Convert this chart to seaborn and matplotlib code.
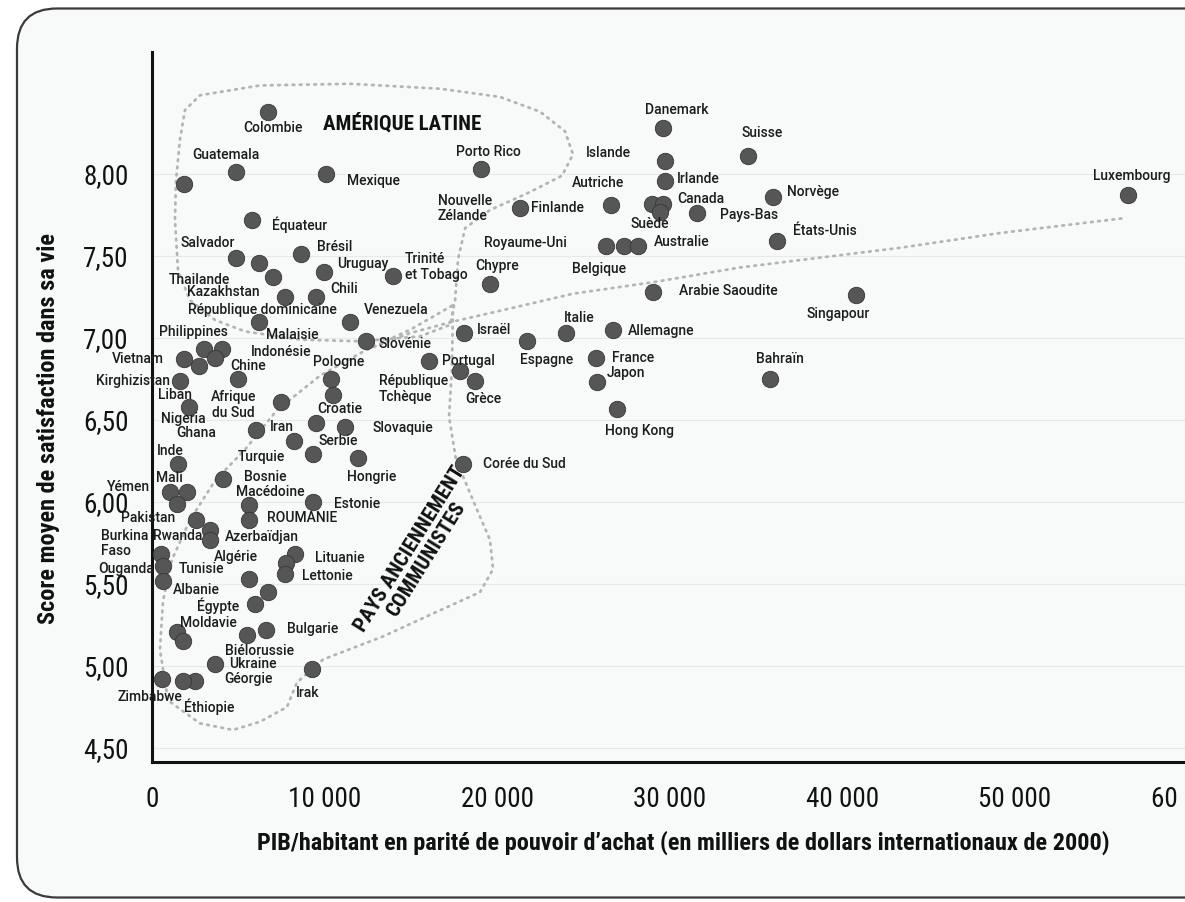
import matplotlib
matplotlib.use("Agg")
import matplotlib.pyplot as plt
import seaborn as sns
from matplotlib import font_manager
from matplotlib.patches import FancyBboxPatch
from matplotlib.transforms import IdentityTransform

# Données (PIB/hab. PPA en $ 2000, score de satisfaction)
pays = [
    "Colombie", "", "Guatemala", "Mexique", "Porto Rico", "Équateur", "Salvador", "",
    "Thaïlande", "Brésil", "Uruguay", "Trinité et Tobago", "Chypre", "Kazakhstan", "Chili",
    "République dominicaine", "Venezuela", "Slovénie", "Israël",
    "Philippines", "Indonésie", "", "Vietnam", "", "Kirghizistan", "Chine", "Pologne", "",
    "Portugal", "République Tchèque", "Grèce", "Espagne", "Italie", "Allemagne", "France",
    "Japon", "Hong Kong", "Bahraïn", "Corée du Sud",
    "Liban", "Afrique du Sud", "Iran", "Croatie", "Slovaquie", "Serbie", "Turquie", "Hongrie",
    "Inde", "Bosnie", "Mali", "", "Yémen", "Macédoine", "ROUMANIE", "Estonie", "Pakistan",
    "Rwanda", "Azerbaïdjan", "Burkina Faso", "Ouganda", "Albanie",
    "Lituanie", "", "Lettonie", "Algérie", "", "Égypte", "Moldavie", "", "Bulgarie",
    "Biélorussie", "Ukraine", "Géorgie", "Éthiopie", "Zimbabwe", "Irak",
    "Danemark", "Suisse", "Islande", "Irlande", "Autriche", "", "Canada", "Suède", "Pays-Bas",
    "Norvège", "Finlande", "Royaume-Uni", "Belgique", "Australie", "États-Unis",
    "Arabie Saoudite", "Singapour", "Luxembourg",
]
pib = [
    6740, 1840, 4860, 10110, 19050, 5780, 4860, 6220,
    7000, 8620, 9980, 13960, 19570, 7710, 9500,
    6220, 11470, 12390, 18080,
    3020, 4030, 3630, 1840, 2710, 1620, 4990, 10380, 10460,
    16070, 17850, 18720, 21750, 23970, 26690, 25730,
    25770, 26930, 35810, 18040,
    2160, 7460, 6030, 9490, 11180, 8230, 9350, 11950,
    1520, 4100, 1040, 2010, 1430, 5600, 5600, 9350, 2530,
    3360, 3360, 520, 610, 610,
    8290, 7750, 7710, 5640, 6740, 5970, 1430, 1810, 6610,
    5490, 3650, 2490, 1810, 560, 9250,
    29630, 34550, 29720, 29720, 26580, 28950, 29630, 29430, 31560,
    36000, 21320, 26290, 27370, 28180, 36230,
    29010, 40790, 56570,
]
score = [
    8.38, 7.94, 8.01, 8.00, 8.03, 7.72, 7.49, 7.46,
    7.37, 7.51, 7.40, 7.38, 7.33, 7.25, 7.25,
    7.10, 7.10, 6.98, 7.03,
    6.93, 6.93, 6.88, 6.87, 6.83, 6.74, 6.75, 6.75, 6.65,
    6.86, 6.80, 6.74, 6.98, 7.03, 7.05, 6.88,
    6.73, 6.57, 6.75, 6.23,
    6.58, 6.61, 6.44, 6.48, 6.46, 6.37, 6.29, 6.27,
    6.23, 6.14, 6.06, 6.06, 5.99, 5.98, 5.89, 6.00, 5.89,
    5.83, 5.77, 5.68, 5.61, 5.52,
    5.68, 5.63, 5.56, 5.53, 5.45, 5.38, 5.21, 5.15, 5.22,
    5.19, 5.01, 4.91, 4.91, 4.92, 4.98,
    8.28, 8.11, 8.08, 7.96, 7.81, 7.82, 7.82, 7.77, 7.76,
    7.86, 7.79, 7.56, 7.56, 7.56, 7.59,
    7.28, 7.26, 7.87,
]

# contours pointillés
latam_pib = [1620, 1910, 2780, 6260, 11470, 16690, 20160, 22480, 23930, 24390, 23760, 21900,
             19580, 18140, 17730, 17560, 17270, 15530, 12050, 8580, 5390, 3650, 2200, 1510,
             1330, 1390, 1620]
latam_score = [8.21, 8.39, 8.48, 8.54, 8.55, 8.52, 8.47, 8.38, 8.26, 8.12, 7.99, 7.89,
               7.78, 7.67, 7.48, 7.23, 7.08, 7.01, 6.98, 6.99, 7.04, 7.11, 7.23, 7.41,
               7.72, 7.96, 8.21]
comm_pib = [17440, 17380, 17210, 17610, 18720, 19580, 19760, 19000, 16280, 13380, 9910, 8400,
            7820, 6260, 4690, 2780, 930, 460, 640, 1160, 2200, 3650, 5390, 7240, 9730, 12460,
            14950, 17440]
comm_score = [7.20, 6.82, 6.52, 6.26, 5.98, 5.77, 5.59, 5.45, 5.32, 5.18, 5.04, 4.90,
              4.75, 4.66, 4.61, 4.65, 4.79, 5.10, 5.40, 5.65, 5.89, 6.13, 6.32, 6.56, 6.77,
              6.93, 7.05, 7.20]
tend_pib = [12460, 14950, 17440, 21150, 24390, 29030, 34070, 38700, 43340, 49130, 56260]
tend_score = [6.93, 7.03, 7.10, 7.19, 7.27, 7.34, 7.43, 7.49, 7.55, 7.64, 7.73]

x_ticks = [0, 10000, 20000, 30000, 40000, 50000, 60000]
y_ticks = [4.5, 5.0, 5.5, 6.0, 6.5, 7.0, 7.5, 8.0]

# étiquettes : texte, pays d'ancrage, décalage (px), alignement
etiquettes = [
    ("Colombie", "Colombie", 5, -16, "center"), ("Guatemala", "Guatemala", -10, 17, "center"),
    ("Mexique", "Mexique", 47, -7, "center"), ("Porto Rico", "Porto Rico", 8, 17, "center"),
    ("Équateur", "Équateur", 48, -5, "center"), ("Salvador", "Salvador", -28, 15, "center"),
    ("Thailande", "Thaïlande", -73, -3, "center"), ("Brésil", "Brésil", 34, 7, "center"),
    ("Uruguay", "Uruguay", 39, 8, "center"), ("Trinité\net Tobago", "Trinité et Tobago", 12, 9, "left"),
    ("Chypre", "Chypre", 7, 18, "center"), ("Kazakhstan", "Kazakhstan", -62, 5, "center"),
    ("Chili", "Chili", 28, 8, "center"),
    ("République dominicaine", "République dominicaine", 3, 12, "center"),
    ("Venezuela", "Venezuela", 46, 12, "center"), ("Malaisie", "République dominicaine", 33, -13, "center"),
    ("Philippines", "Philippines", -11, 17, "center"), ("Slovénie", "Slovénie", 39, -3, "center"),
    ("Israël", "Israël", 30, 3, "center"), ("Nouvelle\nZélande", "Finlande", -82, 0, "left"),
    ("Finlande", "Finlande", 37, 0, "center"), ("Indonésie", "Indonésie", 60, -3, "center"),
    ("Vietnam", "Vietnam", -46, 0, "center"), ("Kirghizistan", "Kirghizistan", -47, 0, "center"),
    ("Chine", "Chine", 10, 13, "center"), ("Pologne", "Pologne", 7, 17, "center"),
    ("Liban", "Liban", -14, 12, "center"), ("Nigeria", "Liban", -6, -12, "center"),
    ("Ghana", "Liban", 7, -26, "center"), ("Afrique\ndu Sud", "Afrique du Sud", -47, -3, "center"),
    ("Iran", "Iran", 26, 3, "center"), ("Croatie", "Croatie", 24, 14, "center"),
    ("Slovaquie", "Slovaquie", 58, -1, "center"), ("Serbie", "Serbie", 44, 0, "center"),
    ("Turquie", "Turquie", -52, -3, "center"), ("Hongrie", "Hongrie", 13, -19, "center"),
    ("Inde", "Inde", -8, 13, "center"), ("Mali", "Mali", -1, 14, "center"),
    ("Yémen", "Yémen", -48, 17, "center"), ("Bosnie", "Bosnie", 42, 2, "center"),
    ("Macédoine", "Macédoine", 22, 13, "center"), ("ROUMANIE", "ROUMANIE", 53, 2, "center"),
    ("Estonie", "Estonie", 44, -2, "center"), ("Pakistan", "Pakistan", -48, 2, "center"),
    ("Rwanda", "Rwanda", -32, -6, "center"), ("Azerbaïdjan", "Azerbaïdjan", 52, 3, "center"),
    ("Burkina\nFaso", "Burkina Faso", -60, 11, "left"), ("Ouganda", "Ouganda", -36, -3, "center"),
    ("Tunisie", "Ouganda", 39, -3, "center"), ("Albanie", "Albanie", 34, -9, "center"),
    ("Algérie", "Algérie", -13, 22, "center"), ("Lituanie", "Lituanie", 45, -4, "center"),
    ("Lettonie", "Lettonie", 42, -2, "center"), ("Égypte", "Égypte", -37, -2, "center"),
    ("Moldavie", "Moldavie", 32, 9, "center"), ("Bulgarie", "Bulgarie", 47, 1, "center"),
    ("Biélorussie", "Biélorussie", 13, -16, "center"), ("Ukraine", "Ukraine", 38, 0, "center"),
    ("Géorgie", "Géorgie", 53, 2, "center"), ("Éthiopie", "Éthiopie", 26, -26, "center"),
    ("Zimbabwe", "Zimbabwe", -12, -18, "center"), ("Irak", "Irak", -4, -24, "center"),
    ("Corée du Sud", "Corée du Sud", 61, 0, "center"), ("Portugal", "Portugal", 39, 0, "center"),
    ("République\nTchèque", "République Tchèque", -81, -18, "left"), ("Grèce", "Grèce", 8, -18, "center"),
    ("Espagne", "Espagne", 19, -19, "center"), ("Italie", "Italie", 13, 15, "center"),
    ("Allemagne", "Allemagne", 48, -1, "center"), ("France", "France", 37, 0, "center"),
    ("Japon", "Japon", 29, 9, "center"), ("Hong Kong", "Hong Kong", 23, -22, "center"),
    ("Bahraïn", "Bahraïn", 10, 20, "center"), ("Arabie Saoudite", "Arabie Saoudite", 76, 1, "center"),
    ("Singapour", "Singapour", -18, -19, "center"), ("Luxembourg", "Luxembourg", 3, 19, "center"),
    ("Norvège", "Norvège", 40, 5, "center"), ("États-Unis", "États-Unis", 48, 10, "center"),
    ("Pays-Bas", "Pays-Bas", 52, -2, "center"), ("Suède", "Suède", -10, -12, "center"),
    ("Canada", "Canada", 37, 5, "center"), ("Irlande", "Irlande", 33, 2, "center"),
    ("Islande", "Islande", -57, 8, "center"), ("Autriche", "Autriche", -13, 22, "center"),
    ("Danemark", "Danemark", 13, 18, "center"), ("Suisse", "Suisse", 14, 23, "center"),
    ("Royaume-Uni", "Royaume-Uni", -80, 3, "center"), ("Australie", "Australie", 43, 4, "center"),
    ("Belgique", "Belgique", -25, -23, "center"),
]

sns.set_theme(style="white")
plt.rcParams["font.family"] = ["Roboto", "DejaVu Sans"]

noms = {f.name for f in font_manager.fontManager.ttflist}
etroit = next((n for n in ["Roboto Condensed", "Liberation Sans Narrow"] if n in noms), "DejaVu Sans")
etroit = [etroit, "DejaVu Sans"]

fig = plt.figure(figsize=(11.85, 9.02), dpi=100)
fig.patch.set_facecolor("white")
cadre = FancyBboxPatch((17, 4.5), 1300, 889, boxstyle="round,pad=0,rounding_size=40",
                       transform=IdentityTransform(), fc="#f8fafa", ec="#3a3a3a", lw=1.6, zorder=-10)
fig.add_artist(cadre)

ax = fig.add_axes([0.12827, 0.15521, 0.87392, 0.78714])
ax.set_facecolor("none")

# contours et tendance
for xs, ys in [(latam_pib, latam_score), (comm_pib, comm_score), (tend_pib, tend_score)]:
    ax.plot(xs, ys, ls=(0, (0.6, 2.0)), lw=2.0, color="#b4b4b4",
            dash_capstyle="round", zorder=1)

sns.scatterplot(x=pib, y=score, ax=ax, s=140, color="#565656", edgecolor="#363636",
                linewidth=0.6, zorder=3, legend=False)

for texte, ancre, dx, dy, ha in etiquettes:
    i = pays.index(ancre)
    ax.annotate(texte, (pib[i], score[i]), xytext=(dx, dy), textcoords="offset pixels",
                ha=ha, va="center", multialignment="left" if ha == "left" else "center",
                fontsize=10, fontweight="medium", color="#1c1c1c", zorder=5,
                linespacing=1.15, annotation_clip=False)

ax.text(14470, 8.31, "AMÉRIQUE LATINE", family=etroit, fontsize=15, fontweight="bold",
        ha="center", va="center", color="#111111")
ax.text(15400, 5.68, "PAYS ANCIENNEMENT\nCOMMUNISTES", family=etroit, fontsize=15,
        fontweight="bold", ha="center", va="center", rotation=58, rotation_mode="anchor",
        linespacing=1.0, color="#111111")

ax.set_xlim(0, 60000)
ax.set_ylim(4.4146, 8.7439)
ax.set_xticks(x_ticks)
ax.set_yticks(y_ticks)
ax.set_xticklabels([f"{v:,}".replace(",", " ") for v in x_ticks], family=etroit, fontsize=19.5)
ax.set_yticklabels([f"{v:.2f}".replace(".", ",") for v in y_ticks], family=etroit, fontsize=19.5)
ax.tick_params(axis="both", direction="out", length=9, width=1.6, color="#111111",
               labelcolor="#111111", pad=8)

ax.yaxis.grid(True, color="#e6e9e9", lw=0.8)
ax.xaxis.grid(False)
ax.set_axisbelow(True)

for cote in ["top", "right"]:
    ax.spines[cote].set_visible(False)
for cote in ["left", "bottom"]:
    ax.spines[cote].set_linewidth(2.2)
    ax.spines[cote].set_color("#111111")

ax.set_xlabel("PIB/habitant en parité de pouvoir d’achat (en milliers de dollars internationaux de 2000)",
              family=etroit, fontsize=17.5, fontweight="bold", color="#111111", va="center")
ax.set_ylabel("Score moyen de satisfaction dans sa vie", family=etroit, fontsize=17.5,
              fontweight="bold", color="#111111", va="center")
ax.xaxis.set_label_coords(0.5128, -0.114)
ax.yaxis.set_label_coords(-0.0995, 0.4704)

fig.savefig("out.png", dpi=100)
